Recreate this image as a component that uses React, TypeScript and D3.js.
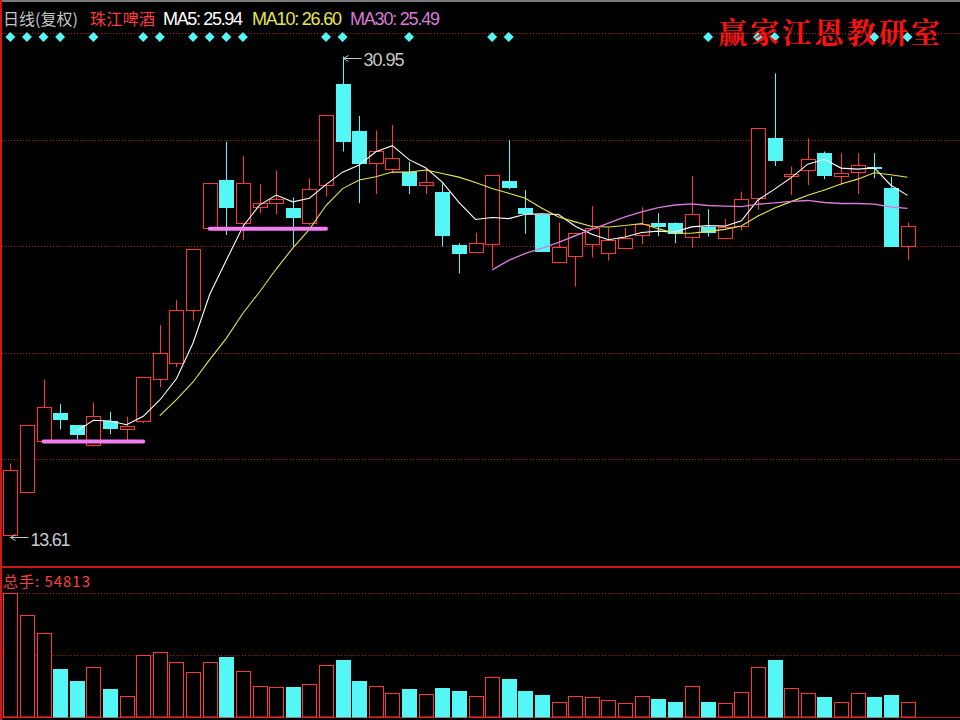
import { line, max, maxIndex, mean, min, minIndex, scaleLinear } from 'd3'

// daily candles (price units: yuan)
const opens = [
  13.63, 15.2, 17.04, 18.06, 17.61, 16.89, 17.76, 17.45, 17.76, 19.26, 19.84, 21.77, 24.73, 26.48,
  24.91, 25.51, 25.66, 25.48, 24.94, 26.3, 29.96, 28.25, 27.09, 26.87, 26.78, 26.3, 26.06, 24.13,
  23.86, 24.16, 26.44, 25.48, 25.21, 23.52, 23.74, 24.16, 23.85, 24.01, 24.49, 24.91, 24.94, 24.43,
  24.79, 24.37, 24.82, 25.82, 27.99, 26.63, 26.84, 27.45, 26.63, 26.78, 26.96, 26.18, 24.09,
]
const highs = [
  16.22, 17.61, 19.26, 18.37, 17.61, 18.42, 18.09, 17.91, 19.34, 21.23, 22.14, 23.97, 26.37, 27.87,
  27.35, 26.34, 26.82, 25.85, 26.54, 28.83, 30.95, 28.8, 28.27, 28.47, 27.14, 26.9, 26.36, 24.19,
  24.57, 26.66, 27.93, 26.12, 25.21, 24.94, 24.55, 25.54, 24.75, 24.75, 25.49, 25.28, 24.94, 26.63,
  25.42, 25.07, 26.06, 28.35, 30.34, 26.96, 27.99, 27.51, 27.45, 27.45, 27.45, 26.6, 24.94,
]
const lows = [
  13.61, 15.15, 17.0, 17.45, 17.09, 16.83, 17.28, 16.95, 17.67, 18.98, 19.7, 21.39, 24.7, 24.49,
  24.31, 25.28, 25.24, 24.07, 24.85, 25.88, 27.51, 25.64, 25.97, 26.72, 25.97, 25.97, 24.07, 23.1,
  23.86, 23.31, 26.14, 24.53, 23.91, 23.52, 22.62, 23.68, 23.56, 24.01, 24.16, 24.45, 24.19, 24.01,
  24.43, 24.37, 24.65, 25.4, 26.99, 25.94, 26.3, 26.51, 26.3, 25.97, 26.54, 24.09, 23.58,
]
const closes = [
  15.98, 17.61, 18.25, 17.82, 17.28, 17.94, 17.49, 17.58, 19.34, 20.23, 21.77, 23.97, 26.37, 25.51,
  26.36, 25.64, 25.79, 25.15, 26.16, 28.83, 27.89, 27.09, 27.53, 27.27, 26.3, 26.42, 24.49, 23.85,
  24.19, 26.66, 26.22, 25.28, 23.91, 24.07, 24.55, 24.75, 24.31, 24.39, 24.88, 24.82, 24.57, 25.25,
  24.61, 24.79, 25.78, 28.35, 27.21, 26.7, 27.23, 26.66, 26.75, 27.02, 26.93, 24.09, 24.82,
]
// 总手 (lots traded)
const volumes = [
  454000, 373000, 308000, 175000, 133000, 184000, 101000, 77000, 227000, 239000, 201000, 163000,
  201000, 218000, 169000, 114000, 109000, 111000, 121000, 190000, 208000, 133000, 114000, 89000,
  101000, 83000, 105000, 94000, 77000, 147000, 138000, 94000, 79000, 55000, 77000, 72000, 61000,
  50000, 77000, 67000, 56000, 114000, 56000, 50000, 92000, 184000, 208000, 105000, 89000, 74000,
  55000, 89000, 74000, 79000, 54813,
]

const maPeriods = [5, 10, 30]
const maLabels = ['MA5: 25.94', 'MA10: 26.60', 'MA30: 25.49']
const signalDays = [0, 1, 2, 3, 5, 8, 9, 11, 12, 13, 14, 19, 20, 24, 29, 30, 42, 45, 46, 52, 54]
const supportFrom = [2, 12]
const supportTo = [8, 19]
const supportPrices = [17.01, 24.71]

const periodLabel = '日线(复权)'
const stockName = '珠江啤酒'
const totalVolumeLabel = '总手: 54813'
const watermark = '赢家江恩教研室'

const RED = '#ff3636'
const CYAN = '#54f6f6'
const GRID = '#b81414'
const MA_COLORS = ['#ffffff', '#e6e650', '#d77cd7']
const MA_LABEL_X = [163, 252, 350]
const MA_LABEL_W = [80, 90, 90]
const NARROW = '"Liberation Sans Narrow", "Arial Narrow", "Liberation Sans", sans-serif'
const CJK = '"Noto Sans CJK SC", sans-serif'

type MaPoint = {
  readonly index: number
  readonly value: number
}

function movingAverage(values: readonly number[], period: number): MaPoint[] {
  const points: MaPoint[] = []
  values.forEach((_, index) => {
    if (index < period - 1) return
    points.push({ index, value: mean(values.slice(index - period + 1, index + 1)) ?? 0 })
  })
  return points
}

function crisp(value: number) {
  return Math.round(value) + 0.5
}

export default function App() {
  const width = 960
  const height = 720
  const priceTop = 33
  const priceBottom = 566
  const volumeBase = 717

  const x = scaleLinear()
    .domain([0, closes.length - 1])
    .range([10.3, 907.5])
  const y = scaleLinear()
    .domain([min(lows) ?? 0, max(highs) ?? 1])
    .range([535.5, 56.5])
  const yVolume = scaleLinear()
    .domain([0, max(volumes) ?? 1])
    .range([volumeBase, 593])
  const gridY = scaleLinear().domain([0, 5]).range([priceTop, priceBottom])

  const maLine = line<MaPoint>()
    .x((point) => x(point.index))
    .y((point) => y(point.value))

  const lowIndex = minIndex(lows)
  const highIndex = maxIndex(highs)
  const lowX = crisp(x(lowIndex))
  const lowY = y(lows[lowIndex]) + 2
  const highX = crisp(x(highIndex))
  const highY = y(highs[highIndex]) + 2

  return (
    <>
      <style>{'body{margin:0;background:#000}'}</style>
      <svg width={width} height={height} viewBox={`0 0 ${width} ${height}`} style={{ display: 'block' }}>
        <rect width={width} height={height} fill="#000" />
        <line x1={0} x2={width} y1={1} y2={1} stroke="#7a7a7a" strokeWidth={2} />
        <line x1={1} x2={1} y1={0} y2={height} stroke="#d01818" strokeWidth={2} />

        {[0, 1, 2, 3, 4].map((k) => (
          <line
            key={`grid-${k}`}
            x1={2}
            x2={width}
            y1={crisp(gridY(k))}
            y2={crisp(gridY(k))}
            stroke={GRID}
            strokeDasharray="1 2"
          />
        ))}
        <line x1={0} x2={width} y1={567} y2={567} stroke="#c81818" strokeWidth={2} />
        {[1, 0.5].map((share) => {
          const gy = crisp(yVolume((max(volumes) ?? 0) * share))
          return (
            <line key={`vgrid-${share}`} x1={2} x2={width} y1={gy} y2={gy} stroke={GRID} strokeDasharray="1 2" />
          )
        })}
        <line x1={0} x2={width} y1={volumeBase + 0.5} y2={volumeBase + 0.5} stroke="#c81818" />

        {signalDays.map((day) => {
          const cx = x(day)
          const cy = 37
          return (
            <path
              key={`sig-${day}`}
              d={`M${cx},${cy - 5}L${cx + 5},${cy}L${cx},${cy + 5}L${cx - 5},${cy}Z`}
              fill={CYAN}
            />
          )
        })}

        {opens.map((open, i) => {
          const close = closes[i]
          const up = close >= open
          const cx = crisp(x(i))
          const top = Math.round(y(Math.max(open, close))) + 0.5
          const bottom = Math.round(y(Math.min(open, close))) + 0.5
          const color = up ? RED : CYAN
          return (
            <g key={`candle-${i}`}>
              <line x1={cx} x2={cx} y1={y(highs[i])} y2={y(lows[i])} stroke={color} />
              <rect
                x={cx - 7}
                y={top}
                width={14}
                height={Math.max(bottom - top, 1)}
                fill={up ? '#000' : CYAN}
                stroke={color}
              />
            </g>
          )
        })}

        {volumes.map((volume, i) => {
          const up = closes[i] >= opens[i]
          const cx = crisp(x(i))
          const top = Math.round(yVolume(volume)) + 0.5
          return (
            <rect
              key={`vol-${i}`}
              x={cx - 7}
              y={top}
              width={14}
              height={volumeBase - top}
              fill={up ? '#000' : CYAN}
              stroke={up ? RED : CYAN}
            />
          )
        })}

        {maPeriods.map((period, k) => (
          <path
            key={`ma-${period}`}
            d={maLine(movingAverage(closes, period)) ?? ''}
            fill="none"
            stroke={MA_COLORS[k]}
            strokeWidth={k === 2 ? 1.4 : 1.1}
          />
        ))}

        {supportPrices.map((price, k) => (
          <line
            key={`support-${k}`}
            x1={x(supportFrom[k])}
            x2={x(supportTo[k])}
            y1={y(price)}
            y2={y(price)}
            stroke="#f27ef2"
            strokeWidth={4}
            strokeLinecap="round"
          />
        ))}

        <g stroke="#c8c8c8" fill="none">
          <line x1={lowX} x2={lowX + 18} y1={lowY} y2={lowY} />
          <path d={`M${lowX + 5},${lowY - 3}L${lowX},${lowY}L${lowX + 5},${lowY + 3}`} />
          <line x1={highX} x2={highX + 18} y1={highY} y2={highY} />
          <path d={`M${highX + 5},${highY - 3}L${highX},${highY}L${highX + 5},${highY + 3}`} />
        </g>
        <text x={lowX + 20} y={lowY + 8} fill="#c8c8c8" fontFamily={NARROW} fontSize={18} textLength={40}>
          {lows[lowIndex].toFixed(2)}
        </text>
        <text x={highX + 20} y={highY + 7} fill="#c8c8c8" fontFamily={NARROW} fontSize={18} textLength={41}>
          {highs[highIndex].toFixed(2)}
        </text>

        <text x={3} y={25} fill="#c4c4c4" fontFamily={CJK} fontSize={16} textLength={75}>
          {periodLabel}
        </text>
        <text x={90} y={25} fill="#ff3c3c" fontFamily={CJK} fontSize={16} textLength={65}>
          {stockName}
        </text>
        {maLabels.map((label, k) => (
          <text
            key={label}
            x={MA_LABEL_X[k]}
            y={25}
            fill={MA_COLORS[k]}
            fontFamily={NARROW}
            fontSize={18}
            textLength={MA_LABEL_W[k]}
          >
            {label}
          </text>
        ))}
        <text x={3} y={587} fill="#ff4040" fontFamily={CJK} fontSize={15} textLength={87}>
          {totalVolumeLabel}
        </text>

        <text
          x={718}
          y={44}
          fill="#ff1010"
          fontFamily={`"Noto Serif CJK SC", ${CJK}`}
          fontSize={29}
          fontWeight={700}
          textLength={222}
        >
          {watermark}
        </text>
      </svg>
    </>
  )
}
